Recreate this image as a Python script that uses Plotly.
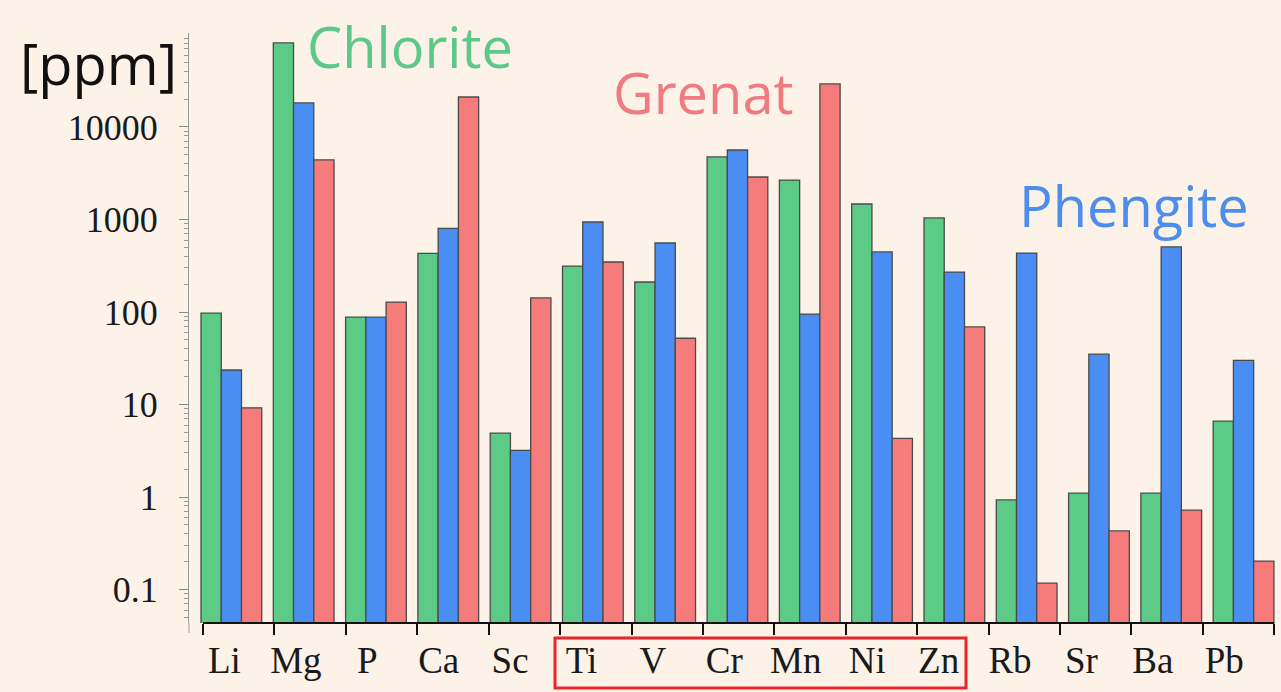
import plotly.graph_objects as go

elements = ["Li", "Mg", "P", "Ca", "Sc", "Ti", "V", "Cr", "Mn", "Ni", "Zn", "Rb", "Sr", "Ba", "Pb"]
chlorite = [97, 81000, 88, 430, 4.9, 314, 211, 4750, 2670, 1470, 1040, 0.93, 1.1, 1.1, 6.6]
phengite = [23.6, 18200, 88, 800, 3.2, 940, 557, 5640, 95, 446, 270, 434, 35, 505, 30]
grenat = [9.2, 4400, 128, 21100, 142, 347, 52, 2880, 29200, 4.3, 69, 0.117, 0.43, 0.72, 0.203]
ytick_vals = [0.1, 1, 10, 100, 1000, 10000]
ytick_text = ["0.1", "1", "10", "100", "1000", "10000"]

GREEN = "#5CCB85"
BLUE = "#4B8EF3"
RED = "#F67B7B"
BG = "#FDF2E8"

W, H = 1281, 692
L, R, T, B = 189, 6, 33, 69
PW, PH = W - L - R, H - T - B


def px(x):
    return (x - L) / PW


def py(y):
    return (H - B - y) / PH


idx = list(range(len(elements)))
fig = go.Figure()
bw = 0.28
for k, (name, vals, col) in enumerate([("Chlorite", chlorite, GREEN),
                                         ("Phengite", phengite, BLUE),
                                         ("Grenat", grenat, RED)]):
    fig.add_trace(go.Bar(x=idx, y=vals, name=name, width=bw, offset=k * bw,
                         marker=dict(color=col, line=dict(color="#4a4a4a", width=1.3)),
                         showlegend=False))

# helper invisible trace to host the label/tick axis
fig.add_trace(go.Scatter(x=[i + 0.3 for i in idx], y=chlorite, xaxis="x2", mode="markers",
                         marker=dict(opacity=0), hoverinfo="skip", showlegend=False))

minor_vals = [m * 10 ** e for e in range(-2, 5) for m in range(2, 10)]

fig.update_layout(
    width=W, height=H,
    margin=dict(l=L, r=R, t=T, b=B),
    paper_bgcolor=BG, plot_bgcolor=BG,
    barmode="overlay",
    xaxis=dict(range=[-0.166, 14.855], showticklabels=False, showline=False,
               showgrid=False, zeroline=False, ticks=""),
    xaxis2=dict(overlaying="x", anchor="y", side="bottom", range=[-0.196, 15.01],
                tickmode="array", tickvals=[i + 0.3 for i in idx], ticktext=elements,
                ticks="", showline=False, showgrid=False, zeroline=False,
                ticklabelstandoff=12,
                tickfont=dict(family="Liberation Serif", size=37, color="#1a1a1a"),
                minor=dict(ticks="outside", tickmode="linear", tick0=0, dtick=1,
                           ticklen=11, tickwidth=2, tickcolor="#111111", showgrid=False)),
    yaxis=dict(type="log", range=[-1.362, 5.016], tickmode="array",
               tickvals=ytick_vals, ticktext=ytick_text,
               ticks="outside", ticklen=9, tickwidth=1, tickcolor="#888888",
               showline=True, linecolor="#999999", linewidth=1,
               showgrid=False, zeroline=False, ticklabelstandoff=14,
               tickfont=dict(family="Liberation Serif", size=36, color="#1a1a1a"),
               minor=dict(tickmode="array", tickvals=minor_vals, ticks="outside",
                          ticklen=4, tickcolor="#999999", showgrid=False)),
    font=dict(family="Open Sans"),
)

# x-axis baseline and y-axis extension
fig.add_shape(type="line", xref="x2", yref="paper", x0=0, x1=15, y0=0, y1=0,
              line=dict(color="#111111", width=2))
fig.add_shape(type="line", xref="paper", yref="paper", x0=0, x1=0, y0=0, y1=py(633),
              line=dict(color="#999999", width=1))
# red box around Ti..Zn
fig.add_shape(type="rect", xref="paper", yref="paper", x0=px(555), x1=px(966),
              y0=py(638), y1=py(688), line=dict(color="#E8262B", width=3))

ann = [
    ("[ppm]", 98, 63, "#111111"),
    ("Chlorite", 410, 46, "#5DC887"),
    ("Grenat", 703, 92, "#EE7B80"),
    ("Phengite", 1134, 205, "#4D8DEB"),
]
for text, x, y, c in ann:
    fig.add_annotation(text=text, xref="paper", yref="paper", x=px(x), y=py(y),
                       xanchor="center", yanchor="middle", showarrow=False,
                       font=dict(family="Open Sans", size=56, color=c))

fig.write_html("out.html", config={"displayModeBar": False},
               post_script="document.body.style.margin='0';"
                           "document.body.style.background='" + BG + "';")
